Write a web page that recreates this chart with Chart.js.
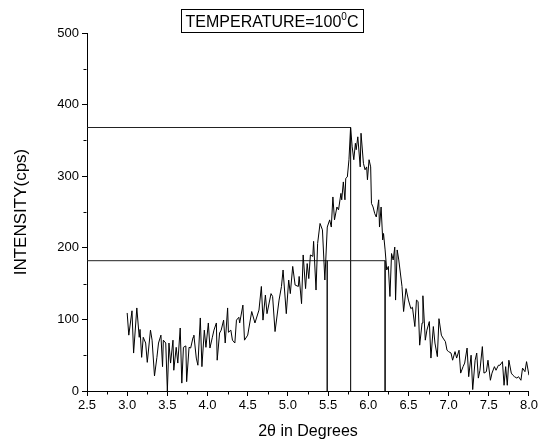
<!DOCTYPE html>
<html><head><meta charset="utf-8">
<script src="https://cdn.jsdelivr.net/npm/chart.js@4.4.0/dist/chart.umd.min.js"></script>
<style>html,body{margin:0;padding:0;background:#fff;}#wrap{width:540px;height:445px;}</style>
</head><body><div id="wrap"><canvas id="c" width="540" height="445"></canvas></div>
<script>
const twoTheta = [
3.00,3.02,3.06,3.08,3.12,3.15,3.16,3.18,3.20,3.23,3.25,3.29,3.31,3.34,3.37,3.39,3.42,3.44,3.45,3.48,
3.50,3.52,3.54,3.57,3.58,3.61,3.63,3.66,3.68,3.70,3.73,3.74,3.77,3.79,3.82,3.83,3.86,3.88,3.91,3.93,
3.96,3.98,4.01,4.03,4.06,4.08,4.11,4.12,4.15,4.17,4.20,4.22,4.25,4.26,4.29,4.31,4.34,4.36,4.39,
4.40,4.44,4.46,4.50,4.55,4.59,4.64,4.67,4.69,4.72,4.74,4.79,4.81,4.84,4.89,4.92,4.94,4.98,5.01,5.03,
5.06,5.09,5.13,5.14,5.17,5.19,5.22,5.24,5.26,5.28,5.31,5.32,5.35,5.37,5.40,5.43,5.46,5.49,
5.52,5.54,5.56,5.58,5.61,5.63,5.66,5.67,5.69,5.71,5.72,5.74,5.76,5.78,5.80,5.82,5.84,5.85,5.87,5.90,
5.91,5.94,5.96,5.98,5.99,6.01,6.03,6.04,6.06,6.08,6.10,6.13,6.14,6.16,6.18,6.19,6.21,6.23,6.25,6.27,
6.29,6.31,6.33,6.34,6.36,6.38,
6.42,6.44,6.47,6.50,6.53,6.55,6.58,6.60,6.62,6.64,6.67,6.68,6.71,6.73,6.76,6.78,6.81,6.83,6.86,6.88,
6.91,6.93,6.96,6.98,7.00,7.03,7.05,7.08,7.10,7.13,7.15,7.18,7.20,7.23,7.25,7.28,7.30,7.33,7.35,7.37,
7.39,7.42,7.44,7.47,7.49,7.52,7.54,7.57,7.59,7.62,7.64,7.67,7.69,7.71,7.73,7.75,7.78,7.80,7.82,7.85,
7.87,7.90,7.92,7.95,7.97,8.00
];
const intensity = [
109,78,112,53,116,75,86,47,75,67,40,85,71,21,47,67,78,34,71,67,
0,67,39,71,29,61,39,88,11,61,63,13,61,60,75,78,46,36,102,34,
85,61,95,60,75,85,95,43,81,85,99,67,116,82,85,71,67,99,103,
95,120,71,78,111,95,113,146,99,134,108,136,132,83,127,146,169,108,155,136,
174,148,146,160,122,190,143,178,157,190,188,209,141,206,234,225,155,229,
239,229,271,239,257,253,276,267,292,267,297,299,323,368,341,323,346,337,355,313,
360,318,309,313,295,323,313,262,257,248,243,267,229,257,211,220,197,169,174,132,
192,183,201,127,197,183,
146,111,143,127,115,117,90,127,125,64,95,133,71,85,97,46,90,67,48,101,
78,74,69,57,55,53,43,55,46,57,25,34,39,60,20,50,2,43,53,18,
29,62,25,27,43,15,25,34,29,36,36,41,8,34,8,43,25,22,20,18,
20,15,32,27,41,22
];
const peakTwoTheta = 5.78;
const peakIntensity = 368;
const halfIntensity = 182;
const halfLeftTwoTheta = 5.49;
const halfRightTwoTheta = 6.21;
const titleMain = 'TEMPERATURE=100';
const titleSup = '0';
const titleEnd = 'C';
const xTitle = '2\u03B8 in Degrees';
const yTitle = 'INTENSITY(cps)';

const FONT = "'Liberation Sans', Arial, sans-serif";
const points = twoTheta.map((x, i) => ({x: x, y: intensity[i]}));
const markerColor = '#222';

const extras = {
  id: 'extras',
  afterDraw(chart) {
    const ctx = chart.ctx;
    const xs = chart.scales.x, ys = chart.scales.y;
    ctx.save();
    ctx.strokeStyle = '#000';
    ctx.lineWidth = 1;
    const b = Math.round(ys.bottom) + 0.5;
    for (let v = 2.75; v < 8.0; v += 0.5) {
      const px = Math.round(xs.getPixelForValue(v)) + 0.5;
      ctx.beginPath(); ctx.moveTo(px, b); ctx.lineTo(px, b + 3); ctx.stroke();
    }
    const l = Math.round(xs.left) - 0.5;
    for (let v = 50; v < 500; v += 100) {
      const py = Math.round(ys.getPixelForValue(v)) + 0.5;
      ctx.beginPath(); ctx.moveTo(l, py); ctx.lineTo(l - 3, py); ctx.stroke();
    }
    ctx.fillStyle = '#000';
    ctx.textBaseline = 'alphabetic';
    ctx.font = '16px ' + FONT;
    const w1 = ctx.measureText(titleMain).width;
    const w3 = ctx.measureText(titleEnd).width;
    ctx.font = '10px ' + FONT;
    const w2 = ctx.measureText(titleSup).width;
    const total = w1 + w2 + w3;
    const cx = 272, baseY = 27;
    let x0 = cx - total / 2;
    ctx.font = '16px ' + FONT;
    ctx.fillText(titleMain, x0, baseY);
    ctx.font = '10px ' + FONT;
    ctx.fillText(titleSup, x0 + w1, baseY - 7);
    ctx.font = '16px ' + FONT;
    ctx.fillText(titleEnd, x0 + w1 + w2, baseY);
    ctx.strokeRect(Math.round(x0 - 5) + 0.5, 9.5, Math.round(total + 9), 23);
    ctx.restore();
  }
};

new Chart(document.getElementById('c'), {
  type: 'line',
  data: {
    datasets: [
      { data: points, borderColor: '#000', borderWidth: 1, pointRadius: 0, tension: 0, fill: false },
      { data: [{x: 2.5, y: peakIntensity}, {x: peakTwoTheta, y: peakIntensity}, {x: peakTwoTheta, y: 0}],
        borderColor: markerColor, borderWidth: 1, pointRadius: 0, tension: 0, fill: false },
      { data: [{x: 2.5, y: halfIntensity}, {x: halfRightTwoTheta, y: halfIntensity}, {x: halfRightTwoTheta, y: 0}],
        borderColor: markerColor, borderWidth: 1, pointRadius: 0, tension: 0, fill: false },
      { data: [{x: halfLeftTwoTheta, y: halfIntensity}, {x: halfLeftTwoTheta, y: 0}],
        borderColor: markerColor, borderWidth: 1, pointRadius: 0, tension: 0, fill: false }
    ]
  },
  options: {
    responsive: false,
    animation: false,
    devicePixelRatio: 1,
    layout: { padding: { top: 33, right: 10, left: 0, bottom: 0 } },
    plugins: { legend: { display: false }, tooltip: { enabled: false }, title: { display: false } },
    scales: {
      x: {
        type: 'linear', min: 2.5, max: 8.0,
        ticks: { stepSize: 0.5, color: '#000', font: { family: FONT, size: 13 }, padding: 2,
                 callback: v => v.toFixed(1), maxRotation: 0, autoSkip: false },
        grid: { drawOnChartArea: false, tickLength: 5, color: '#000' },
        border: { color: '#000', width: 1 },
        title: { display: true, text: xTitle, color: '#000', font: { family: FONT, size: 16 }, padding: { top: 6 } },
        afterFit: s => { s.height = 54; }
      },
      y: {
        min: 0, max: 500,
        ticks: { stepSize: 100, color: '#000', font: { family: FONT, size: 13 }, padding: 3 },
        grid: { drawOnChartArea: false, tickLength: 5, color: '#000' },
        border: { color: '#000', width: 1 },
        title: { display: true, text: yTitle, color: '#000', font: { family: FONT, size: 17 }, padding: { top: 11, bottom: 6 } },
        afterFit: s => { s.width = 87; }
      }
    }
  },
  plugins: [extras]
});
</script>
</body></html>
